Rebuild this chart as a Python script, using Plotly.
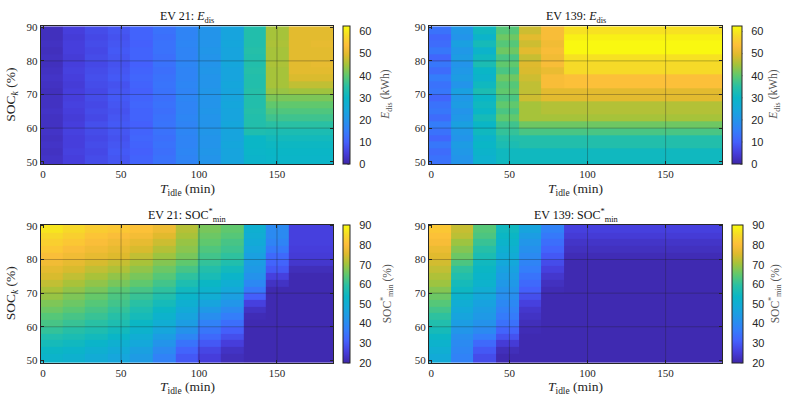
import plotly.graph_objects as go
import numpy as np

# ---------------- data ----------------
# idle-time cell edges (min) and SOC_k cell edges (%)
T_EDGES = [-2.1, 12.4, 26.9, 41.4, 55.9, 70.4, 84.9, 99.4, 113.9, 128.4, 142.9, 157.4, 171.9, 186.4]
SOC_EDGES = [49.3, 52, 54, 56, 58, 60, 62, 64, 66, 68, 70, 72, 74, 76, 78, 80, 82, 84, 86, 88, 90.3]

X_TICKS = [0, 50, 100, 150]
Y_TICKS = [50, 60, 70, 80, 90]
E_TICKS = [0, 10, 20, 30, 40, 50, 60]
S_TICKS = [20, 30, 40, 50, 60, 70, 80, 90]

# each column: values from SOC band 50-52 (bottom) to 88-90 (top)
ev21_edis_cols = [
    [3.0, 2.5, 3.0, 2.5, 3.0, 2.5, 2.5, 3.0, 2.5, 2.5, 2.0, 2.5, 3.0, 2.5, 2.0, 2.5, 2.0, 2.5, 2.0, 2.0],
    [5.0, 5.5, 5.0, 5.0, 5.5, 5.0, 4.5, 5.0, 5.5, 5.0, 5.0, 4.5, 5.0, 5.5, 5.0, 4.5, 5.0, 5.0, 4.5, 5.0],
    [7.0, 6.5, 7.0, 6.5, 7.0, 7.5, 6.5, 7.0, 6.5, 7.0, 6.5, 7.0, 7.5, 7.0, 6.5, 7.0, 6.5, 7.0, 6.5, 7.0],
    [8.5, 9.0, 8.5, 8.0, 8.5, 9.0, 8.5, 8.0, 8.5, 9.0, 8.5, 8.0, 9.0, 8.5, 8.0, 8.5, 9.0, 8.5, 8.0, 8.5],
    [10.5, 10.0, 10.5, 11.0, 10.5, 10.0, 10.5, 10.5, 11.0, 10.5, 10.0, 10.5, 11.0, 10.5, 10.0, 10.5, 10.5, 10.0, 10.5, 10.5],
    [13.0, 12.5, 13.0, 12.5, 13.0, 13.5, 13.0, 12.5, 13.0, 12.5, 13.0, 13.5, 13.0, 12.5, 13.0, 12.5, 13.0, 13.0, 12.5, 13.0],
    [16.5, 17.0, 16.5, 16.5, 17.0, 16.5, 17.0, 16.5, 16.5, 17.0, 16.5, 17.0, 16.5, 16.5, 17.0, 16.5, 16.5, 17.0, 16.5, 16.5],
    [20.0, 20.5, 20.0, 20.0, 20.5, 20.0, 20.0, 20.5, 20.0, 20.0, 20.5, 20.0, 20.0, 20.5, 20.0, 20.0, 20.5, 20.0, 20.0, 20.0],
    [24.0, 24.0, 24.5, 24.0, 24.0, 24.5, 24.0, 24.0, 24.5, 24.0, 24.0, 24.5, 24.0, 24.0, 24.5, 24.0, 24.0, 24.5, 24.0, 24.0],
    [29.0, 29.5, 30.0, 30.0, 33.5, 34.0, 34.0, 34.5, 34.0, 34.0, 34.5, 34.0, 34.0, 34.5, 34.0, 34.0, 34.5, 34.0, 34.0, 34.0],
    [29.5, 30.0, 30.5, 31.5, 33.0, 35.0, 37.0, 38.5, 40.0, 42.0, 44.0, 45.0, 45.0, 45.0, 45.5, 45.0, 45.0, 45.5, 45.0, 45.0],
    [29.5, 30.0, 30.5, 31.5, 33.0, 35.0, 37.0, 38.5, 40.0, 42.0, 44.5, 47.0, 49.0, 50.0, 50.0, 50.0, 50.0, 50.0, 50.0, 50.0],
    [29.5, 30.0, 30.5, 31.5, 33.0, 35.0, 37.0, 38.5, 40.0, 42.0, 44.5, 47.0, 49.0, 50.0, 50.5, 50.0, 50.0, 50.5, 50.0, 50.0],
]

ev139_edis_cols = [
    [13, 12, 14, 11, 13, 15, 12, 14, 13, 11, 14, 13, 15, 12, 14, 11, 14, 12, 11, 13],
    [20, 21, 22, 20, 21, 23, 21, 20, 22, 21, 23, 20, 22, 21, 20, 22, 21, 23, 20, 21],
    [28, 29, 30, 29, 31, 30, 32, 30, 31, 30, 33, 31, 29, 30, 33, 31, 29, 32, 29, 31],
    [31, 31, 33, 34, 36, 37, 40, 38, 40, 38, 40, 39, 41, 38, 40, 38, 41, 39, 41, 39],
    [31, 31, 34, 34, 38, 41, 45, 45, 45, 48, 47, 47, 48, 49, 49.5, 47.5, 50, 48, 50, 48],
    [31, 31, 34, 34, 38, 41, 45, 46, 46, 50, 50, 53, 53, 51, 53, 52, 53, 52, 53, 53],
    [31, 31, 34, 34, 38, 41, 45, 46, 46, 50, 50, 54, 54, 58, 58, 59, 62, 62, 61, 59],
    [31, 31, 34, 34, 38, 41, 45, 46, 46, 50, 50, 54, 54, 58, 58, 59, 62, 62, 61, 59],
    [31, 31, 34, 34, 38, 41, 45, 46, 46, 50, 50, 54, 54, 58, 58, 59, 62, 62, 61, 59],
    [31, 31, 34, 34, 38, 41, 45, 46, 46, 50, 50, 54, 54, 58, 58, 59, 62, 62, 61, 59],
    [31, 31, 34, 34, 38, 41, 45, 46, 46, 50, 50, 54, 54, 58, 58, 59, 62, 62, 61, 59],
    [31, 31, 34, 34, 38, 41, 45, 46, 46, 50, 50, 54, 54, 58, 58, 59, 62, 62, 61, 59],
    [31, 31, 34, 34, 38, 41, 45, 46, 46, 50, 50, 54, 54, 58, 58, 59, 62, 62, 61, 59],
]

ev21_socmin_cols = [
    [52.5, 54, 56, 58, 60.5, 62.5, 64, 66, 67.5, 69.5, 71, 73, 75, 76.5, 78.5, 80, 82, 83.5, 85, 87],
    [51.5, 53, 55, 57, 59, 61, 62.5, 64.5, 66, 67.5, 69, 71, 73, 75, 77, 78.5, 80, 82, 83.5, 85],
    [49.5, 51, 53, 55.5, 57.5, 59.5, 61, 62.5, 64, 65.5, 67, 69, 71, 73, 75, 77, 78.5, 80, 81.5, 83],
    [47.5, 49, 51, 53.5, 55.5, 57.5, 59, 60.5, 62, 63, 64.5, 67, 69, 71.5, 73.5, 75.5, 77, 78.5, 80, 82],
    [44.5, 46, 48, 50, 52, 54, 56, 57.5, 59.5, 61, 62.5, 65, 67, 69, 71, 73, 75, 77, 79, 81],
    [38, 40, 42.5, 45, 47.5, 50, 52, 54, 56, 58, 60, 62, 64, 66, 68, 70, 72, 74, 76, 78],
    [30, 32, 35, 39, 42, 45, 47, 49, 51, 53, 55, 57.5, 60, 62.5, 65, 67, 68.5, 69.5, 71, 72],
    [25.5, 27, 30, 33, 35.5, 38, 41, 44, 47, 50, 52, 54, 56.5, 58.5, 60.5, 62, 63.5, 65, 66, 67],
    [22, 23, 25.5, 28.5, 31, 34, 37, 40, 43, 45.5, 48, 50.5, 53, 55.5, 58, 60, 61.5, 62.5, 64, 65],
    [21, 21, 21, 21, 21, 21, 21.5, 23, 26, 31, 36, 39.5, 42, 44, 45, 46, 47.5, 49, 50, 51],
    [21, 21, 21, 21, 21, 21, 21, 21, 21, 21, 21, 23, 26, 30, 32, 33, 36, 38.5, 40, 40],
    [21, 21, 21, 21, 21, 21, 21, 21, 21, 21, 21, 21, 21, 22, 24, 25, 25.5, 26, 26, 26],
    [21, 21, 21, 21, 21, 21, 21, 21, 21, 21, 21, 21, 21, 22, 24, 25, 25.5, 26, 26, 26],
]

ev139_socmin_cols = [
    [49, 50.5, 52, 54, 56, 58, 60, 62, 64, 66, 68, 70, 71.5, 73, 74.5, 76, 77.5, 79.5, 81, 82],
    [38, 39, 40, 41, 43, 45, 47, 48.5, 50, 52, 54.5, 56, 58, 60, 63, 66, 68, 70, 72.5, 73.5],
    [28, 30, 33, 37, 40, 42, 44, 45, 46.5, 48, 50, 52, 53, 54, 55, 57, 59, 61, 63, 64],
    [21, 22, 25, 29, 32, 34.5, 36.5, 38, 39.5, 41, 42, 43.5, 45, 46.5, 48, 49.5, 51, 52.5, 54, 55],
    [21, 21, 21, 21, 21.5, 22, 23, 24, 26, 28.5, 31, 33, 35, 37, 38.5, 40, 41.5, 43, 45, 47],
    [21, 21, 21, 21, 21, 21, 21, 21, 21, 21, 21.5, 22.5, 24, 26, 28, 30, 32, 34, 36, 38],
    [21, 21, 21, 21, 21, 21, 21, 21, 21, 21, 21, 21, 21, 21, 21, 21.5, 22.5, 23.5, 25, 26],
    [21, 21, 21, 21, 21, 21, 21, 21, 21, 21, 21, 21, 21, 21, 21, 21.5, 22.5, 23.5, 25, 26],
    [21, 21, 21, 21, 21, 21, 21, 21, 21, 21, 21, 21, 21, 21, 21, 21.5, 22.5, 23.5, 25, 26],
    [21, 21, 21, 21, 21, 21, 21, 21, 21, 21, 21, 21, 21, 21, 21, 21.5, 22.5, 23.5, 25, 26],
    [21, 21, 21, 21, 21, 21, 21, 21, 21, 21, 21, 21, 21, 21, 21, 21.5, 22.5, 23.5, 25, 26],
    [21, 21, 21, 21, 21, 21, 21, 21, 21, 21, 21, 21, 21, 21, 21, 21.5, 22.5, 23.5, 25, 26],
    [21, 21, 21, 21, 21, 21, 21, 21, 21, 21, 21, 21, 21, 21, 21, 21.5, 22.5, 23.5, 25, 26],
]

E_RANGE = [0, 62.4]
S_RANGE = [20, 90.3]

# ---------------- style ----------------
W, H = 786, 403
PARULA = [
    [0.00, "rgb(62,38,168)"], [0.08, "rgb(70,62,220)"], [0.16, "rgb(68,96,252)"],
    [0.24, "rgb(52,125,250)"], [0.32, "rgb(35,148,234)"], [0.40, "rgb(20,168,218)"],
    [0.48, "rgb(10,182,198)"], [0.56, "rgb(40,192,165)"], [0.64, "rgb(95,200,110)"],
    [0.72, "rgb(165,195,58)"], [0.79, "rgb(222,186,45)"], [0.86, "rgb(253,190,58)"],
    [0.93, "rgb(246,218,40)"], [1.00, "rgb(249,251,14)"],
]
SERIF = "Liberation Serif"
SANS = "Liberation Sans"
DARK = "#262626"

def px_x(p):
    return p / W

def px_y(p):
    return 1 - p / H

panels = [
    dict(cols=ev21_edis_cols, rng=E_RANGE, ticks=E_TICKS, x0=40.7, x1=333.3, yt=21.7, yb=162.3,
         cbx=342.7, cbw=6.7, cbtx=386.5, title="EV 21: <i>E</i><sub>dis</sub>",
         cbtitle="<i>E</i><sub>dis</sub> (kWh)", ytitle=True),
    dict(cols=ev139_edis_cols, rng=E_RANGE, ticks=E_TICKS, x0=429.0, x1=722.0, yt=21.7, yb=162.3,
         cbx=732.0, cbw=10.3, cbtx=774.5, title="EV 139: <i>E</i><sub>dis</sub>",
         cbtitle="<i>E</i><sub>dis</sub> (kWh)", ytitle=False),
    dict(cols=ev21_socmin_cols, rng=S_RANGE, ticks=S_TICKS, x0=40.7, x1=333.3, yt=224.3, yb=365.0,
         cbx=342.7, cbw=6.7, cbtx=386.5, title="EV 21: SOC<sup>*</sup><sub>min</sub>",
         cbtitle="SOC<sup>*</sup><sub>min</sub> (%)", ytitle=True),
    dict(cols=ev139_socmin_cols, rng=S_RANGE, ticks=S_TICKS, x0=429.0, x1=722.0, yt=224.3, yb=365.0,
         cbx=731.5, cbw=11.0, cbtx=774.5, title="EV 139: SOC<sup>*</sup><sub>min</sub>",
         cbtitle="SOC<sup>*</sup><sub>min</sub> (%)", ytitle=False),
]

fig = go.Figure()
annotations = []
shapes = []
X_RANGE = [-1.5, 186.1]
Y_RANGE = [SOC_EDGES[0], SOC_EDGES[-1]]

for i, p in enumerate(panels):
    k = "" if i == 0 else str(i + 1)
    z = np.array(p["cols"], dtype=float).T  # rows = SOC bands, cols = idle time
    cb_len = (p["yb"] - p["yt"]) / H
    cb_y = px_y((p["yt"] + p["yb"]) / 2)
    fig.add_trace(go.Heatmap(
        z=z, x=T_EDGES, y=SOC_EDGES, xaxis="x" + k, yaxis="y" + k,
        colorscale=PARULA, zmin=p["rng"][0], zmax=p["rng"][1], zsmooth=False,
        hoverinfo="skip",
        colorbar=dict(
            x=px_x(p["cbx"]), xanchor="left", y=cb_y, yanchor="middle",
            len=cb_len, lenmode="fraction", thickness=p["cbw"], thicknessmode="pixels",
            outlinewidth=1, outlinecolor=DARK, tickvals=p["ticks"], ticks="outside",
            ticklen=7, tickcolor="rgba(0,0,0,0)", tickwidth=1,
            tickfont=dict(family=SANS, size=11, color=DARK), xpad=0, ypad=0,
        ),
    ))
    # short inside tick marks on the colour bar's right edge
    for tv in p["ticks"]:
        frac = (tv - p["rng"][0]) / (p["rng"][1] - p["rng"][0])
        ypix = p["yb"] - frac * (p["yb"] - p["yt"])
        shapes.append(dict(type="line", xref="paper", yref="paper",
                           x0=px_x(p["cbx"] + p["cbw"] - 2), x1=px_x(p["cbx"] + p["cbw"]),
                           y0=px_y(ypix), y1=px_y(ypix), line=dict(color=DARK, width=1), layer="above"))
    fig.update_layout(**{
        "xaxis" + k: dict(domain=[px_x(p["x0"]), px_x(p["x1"])], anchor="y" + k,
                          range=X_RANGE, tickvals=X_TICKS, ticks="inside", ticklen=3,
                          tickcolor=DARK, showline=True, linecolor=DARK, linewidth=1,
                          mirror="ticks", showgrid=False, zeroline=False,
                          tickfont=dict(family=SERIF, size=11, color=DARK)),
        "yaxis" + k: dict(domain=[px_y(p["yb"]), px_y(p["yt"])], anchor="x" + k,
                          range=Y_RANGE, tickvals=Y_TICKS, ticks="inside", ticklen=3,
                          tickcolor=DARK, showline=True, linecolor=DARK, linewidth=1,
                          mirror="ticks", showgrid=False, zeroline=False,
                          tickfont=dict(family=SERIF, size=11, color=DARK)),
    })
    for xv in X_TICKS[1:]:
        shapes.append(dict(type="line", xref="x" + k, yref="y" + k + " domain", x0=xv, x1=xv,
                           y0=0, y1=1, line=dict(color="rgba(30,30,30,0.38)", width=0.8), layer="above"))
    for yv in Y_TICKS[1:-1]:
        shapes.append(dict(type="line", xref="x" + k + " domain", yref="y" + k, x0=0, x1=1,
                           y0=yv, y1=yv, line=dict(color="rgba(30,30,30,0.38)", width=0.8), layer="above"))
    xc = (p["x0"] + p["x1"]) / 2
    annotations.append(dict(text=p["title"], x=px_x(xc), y=px_y(p["yt"] - 9.5), xref="paper", yref="paper",
                            showarrow=False, xanchor="center", yanchor="middle",
                            font=dict(family=SERIF, size=12, color="#111")))
    annotations.append(dict(text="<i>T</i><sub>idle</sub> (min)", x=px_x(xc), y=px_y(p["yb"] + 25.5),
                            xref="paper", yref="paper", showarrow=False, xanchor="center", yanchor="middle",
                            font=dict(family=SERIF, size=13.5, color=DARK)))
    if p["ytitle"]:
        annotations.append(dict(text="SOC<sub><i>k</i></sub> (%)", x=px_x(11.5),
                                y=px_y((p["yt"] + p["yb"]) / 2), xref="paper", yref="paper",
                                showarrow=False, textangle=-90, xanchor="center", yanchor="middle",
                                font=dict(family=SERIF, size=13.5, color=DARK)))
    annotations.append(dict(text=p["cbtitle"], x=px_x(p["cbtx"]), y=px_y((p["yt"] + p["yb"]) / 2),
                            xref="paper", yref="paper", showarrow=False, textangle=-90,
                            xanchor="center", yanchor="middle",
                            font=dict(family=SERIF, size=11.5, color="#555")))

fig.update_layout(
    width=W, height=H, margin=dict(l=0, r=0, t=0, b=0),
    paper_bgcolor="white", plot_bgcolor="white",
    annotations=annotations, shapes=shapes, showlegend=False,
)

fig.write_html("out.html")
